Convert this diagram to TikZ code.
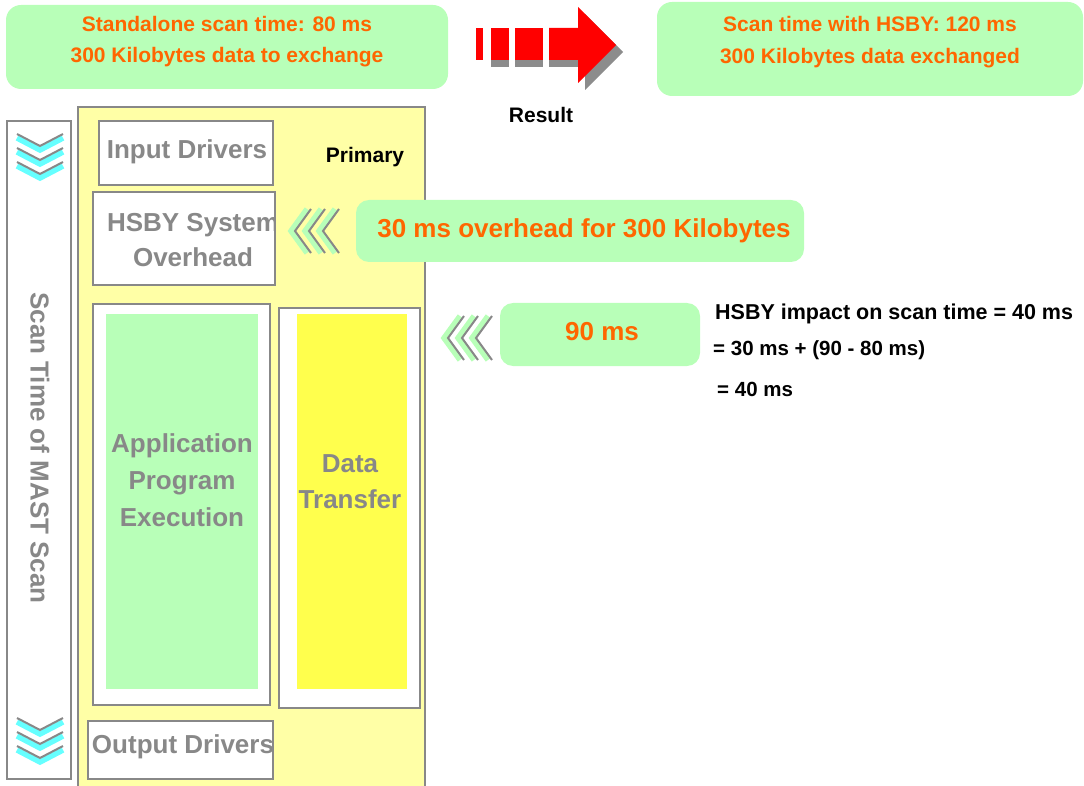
\documentclass[tikz,border=0pt]{standalone}
\usepackage{fontspec}
\setmainfont{Liberation Sans}
\definecolor{panelgreen}{HTML}{B8FFB8}
\definecolor{orangec}{HTML}{FF6600}
\definecolor{boxgray}{HTML}{888888}
\definecolor{paleyellow}{HTML}{FFFFA6}
\definecolor{brightyellow}{HTML}{FFFF4D}
\definecolor{cyanchev}{HTML}{66FFFF}
\definecolor{shadowgray}{HTML}{8C8C8C}
\tikzset{
  box/.style={draw=boxgray, line width=2pt, fill=white, inner sep=0pt, outer sep=0pt},
  greenpanel/.style={fill=panelgreen, rounded corners=15pt, inner sep=0pt, outer sep=0pt},
  plainfill/.style={inner sep=0pt, outer sep=0pt},
  graytxt/.style={text=boxgray, font=\fontsize{26}{36}\selectfont\bfseries, align=center, inner sep=0pt},
  orangetxt/.style={text=orangec, font=\fontsize{21}{31.5}\selectfont\bfseries, align=center, inner sep=0pt},
  bigorange/.style={text=orangec, font=\fontsize{26}{32}\selectfont\bfseries, align=center, inner sep=0pt},
  blacktxt/.style={text=black, font=\fontsize{21}{28}\selectfont\bfseries, inner sep=0pt},
  formtxt/.style={text=black, font=\fontsize{20.5}{28}\selectfont\bfseries, inner sep=0pt, anchor=west},
  downchev/.pic={
    \draw[cyanchev, line width=5.5pt] (-23,4) -- (0,16) -- (23,4);
    \draw[boxgray, line width=2pt] (-23,0) -- (0,12) -- (23,0);
  },
  leftchev/.pic={
    \draw[panelgreen, line width=5.5pt] (16,-22) -- (0,0) -- (16,22);
    \draw[boxgray, line width=2pt] (20,-22) -- (4,0) -- (20,22);
  }
}
\begin{document}
\begin{tikzpicture}[x=1pt, y=-1pt]
\useasboundingbox (0,0) rectangle (1084,786);

% summary panels at the top
\node[greenpanel, minimum width=442pt, minimum height=84pt] (lbox) at (227,47) {};
\node[orangetxt] (ltxt) at (227,41.5) {Standalone scan time: 80 ms\\300 Kilobytes data to exchange};
\node[greenpanel, minimum width=426pt, minimum height=94pt] (rbox) at (870,49) {};
\node[orangetxt] (rtxt) at (870,42) {Scan time with HSBY: 120 ms\\300 Kilobytes data exchanged};

% dashed result arrow with drop shadow
\fill[shadowgray] (491,60) rectangle (509,67);
\fill[shadowgray] (515,60) rectangle (543,67);
\fill[shadowgray] (549,35) rectangle (578,67);
\fill[shadowgray] (585,14) -- (623,52) -- (585,90) -- cycle;
\fill[red] (476,28) rectangle (483,60);
\fill[red] (491,28) rectangle (509,60);
\fill[red] (515,28) rectangle (543,60);
\fill[red] (549,28) -- (578,28) -- (578,7) -- (616,45) -- (578,83) -- (578,60) -- (549,60) -- cycle;
\node[blacktxt] (result) at (541,115) {Result};

% scan time column
\node[box, minimum width=64pt, minimum height=658pt] (scanbox) at (39,450) {};
\node[graytxt, rotate=-90] (scanlbl) at (40,448) {Scan Time of MAST Scan};
\foreach \yy in {134,148,162} \pic at (40,\yy) {downchev};
\foreach \yy in {718,732,746} \pic at (40,\yy) {downchev};

% primary controller panel
\node[box, fill=paleyellow, minimum width=347pt, minimum height=683pt] (primary) at (251.5,448.5) {};
\node[blacktxt] (primlbl) at (365,157) {Primary};

\node[box, minimum width=174pt, minimum height=64pt] (inbox) at (186,153) {};
\node[graytxt] (intxt) at (187,152) {Input Drivers};

\node[box, minimum width=182pt, minimum height=93pt] (hsbybox) at (184,238.5) {};
\begin{scope}
  \clip (94,193) rectangle (274,284);
  \node[graytxt, font=\fontsize{26}{35}\selectfont\bfseries] (hsbytxt) at (193,240) {HSBY System\\Overhead};
\end{scope}

\node[box, minimum width=177pt, minimum height=401pt] (appouter) at (181.5,504.5) {};
\node[plainfill, fill=panelgreen, minimum width=152pt, minimum height=375pt] (appinner) at (182,501.5) {};
\node[graytxt, font=\fontsize{26}{37}\selectfont\bfseries] (apptxt) at (182,480.5) {Application\\Program\\Execution};

\node[box, minimum width=141pt, minimum height=400pt] (dtouter) at (349.5,508) {};
\node[plainfill, fill=brightyellow, minimum width=110pt, minimum height=375pt] (dtinner) at (352,501.5) {};
\node[graytxt] (dttxt) at (350,482) {Data\\Transfer};

\node[box, minimum width=185pt, minimum height=58pt] (outbox) at (180.5,750) {};
\node[graytxt] (outtxt) at (183,747) {Output Drivers};

% overhead and transfer time callouts
\foreach \xx in {291,305,319} \pic at (\xx,231) {leftchev};
\node[greenpanel, rounded corners=13pt, minimum width=448pt, minimum height=62pt] (box30) at (580,231) {};
\node[bigorange] (txt30) at (584,231) {30 ms overhead for 300 Kilobytes};

\foreach \xx in {444,458,472} \pic at (\xx,338) {leftchev};
\node[greenpanel, rounded corners=13pt, minimum width=200pt, minimum height=63pt] (box90) at (600,334.5) {};
\node[bigorange] (txt90) at (602,332) {90 ms};

% impact formula
\node[formtxt, font=\fontsize{21.5}{28}\selectfont\bfseries] (f1) at (715,314) {HSBY impact on scan time = 40 ms};
\node[formtxt] (f2) at (713,350) {= 30 ms + (90 - 80 ms)};
\node[formtxt] (f3) at (717,389) {= 40 ms};
\end{tikzpicture}
\end{document}
